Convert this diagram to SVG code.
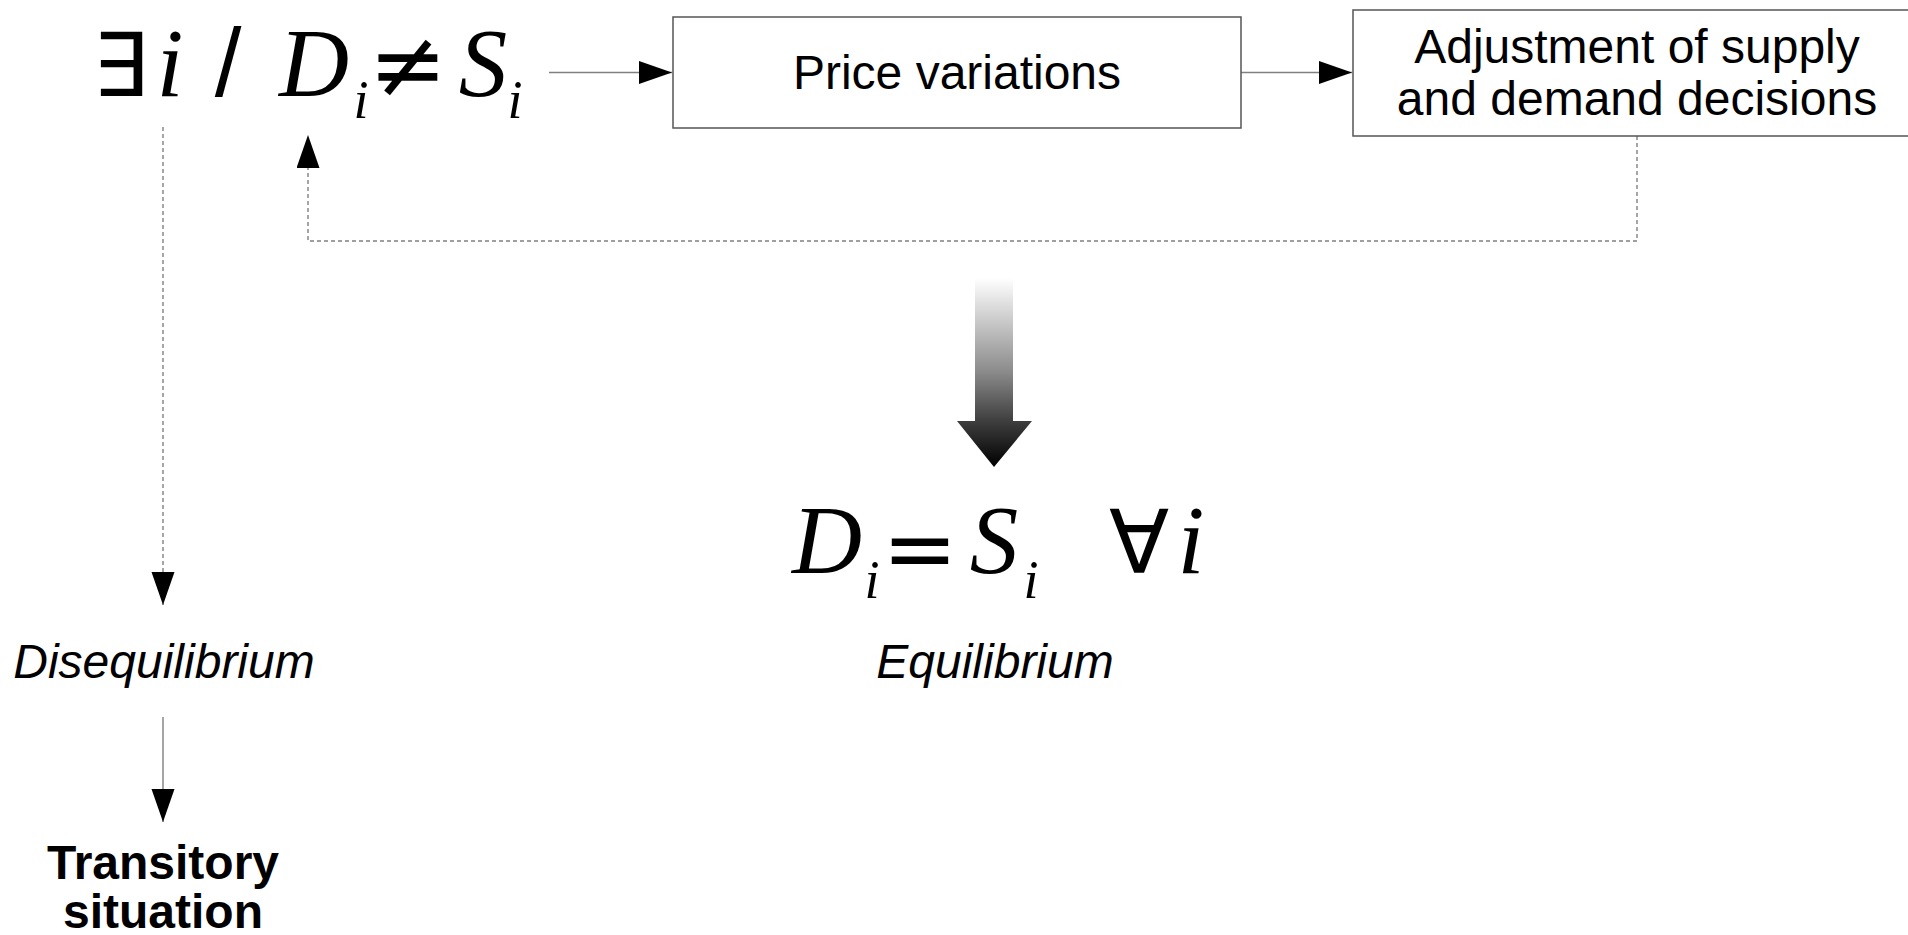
<svg xmlns="http://www.w3.org/2000/svg" width="1908" height="935" viewBox="0 0 1908 935">
  <style>
    .box { fill: #ffffff; stroke: #555555; stroke-width: 1.5; }
    .lbl { font-family: "Liberation Sans", Arial, sans-serif; font-size: 48px; fill: #000000; text-anchor: middle; }
    .it { font-style: italic; }
    .bd { font-weight: bold; }
    .mv { font-family: "Liberation Serif", "Times New Roman", serif; font-style: italic; font-size: 97px; fill: #000; text-anchor: middle; }
    .ms { font-family: "Liberation Serif", "Times New Roman", serif; font-style: italic; font-size: 54px; fill: #000; text-anchor: middle; }
    .mo { font-family: "DejaVu Sans", sans-serif; font-size: 88px; fill: #000; text-anchor: middle; }
    .sl { font-family: "Liberation Sans", Arial, sans-serif; font-size: 96px; fill: #000; text-anchor: middle; }
    .conn { fill: none; stroke: #808080; stroke-width: 1.4; }
    .dash { stroke-dasharray: 4 3; }
  </style>
  <defs>
    <marker id="ah" markerUnits="userSpaceOnUse" markerWidth="34" markerHeight="24" refX="33" refY="11.5" orient="auto">
      <path d="M0,0 L33,11.5 L0,23 Z" fill="#000000" stroke="none"/>
    </marker>
    <linearGradient id="grad" gradientUnits="userSpaceOnUse" x1="0" y1="278" x2="0" y2="467">
      <stop offset="0" stop-color="#ffffff"/>
      <stop offset="0.5" stop-color="#8a8a8a"/>
      <stop offset="0.75" stop-color="#404040"/>
      <stop offset="1" stop-color="#000000"/>
    </linearGradient>
  </defs>

  <g id="connectors">
    <path class="conn" d="M549,72.5 H672" marker-end="url(#ah)"/>
    <path class="conn" d="M1241,72.5 H1352" marker-end="url(#ah)"/>
    <path class="conn dash" d="M1637,136 V241 H308 V135" marker-end="url(#ah)"/>
    <path class="conn dash" d="M163,127 V605" marker-end="url(#ah)"/>
    <path class="conn" d="M163,717 V822" marker-end="url(#ah)"/>
    <polygon id="big-arrow" points="975,278 1013,278 1013,421 1032,421 994,467 957,421 975,421" fill="url(#grad)"/>
  </g>

  <g id="node-disequation">
    <text class="mo" x="120" y="96">∃</text>
    <text class="mv" x="170" y="96">i</text>
    <text class="sl" x="228" y="96">/</text>
    <text class="mv" x="314" y="96">D</text>
    <text class="ms" x="361" y="118">i</text>
    <text class="mo" x="408" y="97" style="font-size:94px">≠</text>
    <text class="mv" x="483" y="96">S</text>
    <text class="ms" x="515" y="118">i</text>
  </g>

  <g id="node-price">
    <rect class="box" x="673" y="17" width="568" height="111"/>
    <text class="lbl" x="957" y="89">Price variations</text>
  </g>

  <g id="node-adjustment">
    <rect class="box" x="1353" y="10" width="600" height="126"/>
    <text class="lbl" x="1637" y="63">Adjustment of supply</text>
    <text class="lbl" x="1637" y="115">and demand decisions</text>
  </g>

  <g id="node-equation">
    <text class="mv" x="827" y="573">D</text>
    <text class="ms" x="872" y="598">i</text>
    <text class="mo" x="920" y="580" style="font-size:90px">=</text>
    <text class="mv" x="994" y="573">S</text>
    <text class="ms" x="1031" y="598">i</text>
    <text class="mo" x="1139" y="573">∀</text>
    <text class="mv" x="1191" y="573">i</text>
  </g>

  <g id="node-equilibrium">
    <text class="lbl it" x="995" y="678">Equilibrium</text>
  </g>

  <g id="node-disequilibrium">
    <text class="lbl it" x="164" y="678">Disequilibrium</text>
  </g>

  <g id="node-transitory">
    <text class="lbl bd" x="163" y="879">Transitory</text>
    <text class="lbl bd" x="163" y="928">situation</text>
  </g>
</svg>
